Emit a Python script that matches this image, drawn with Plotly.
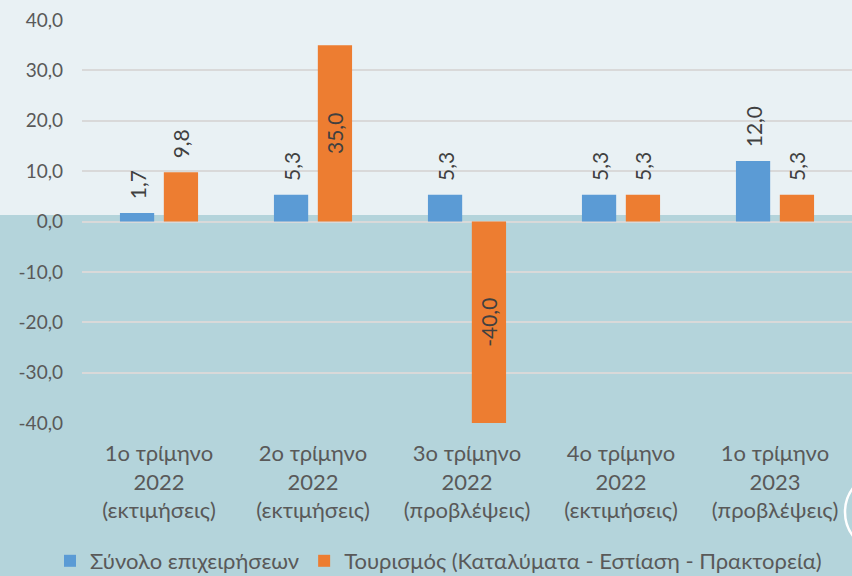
import plotly.graph_objects as go

categories = [
    "1ο τρίμηνο<br>2022<br>(εκτιμήσεις)",
    "2ο τρίμηνο<br>2022<br>(εκτιμήσεις)",
    "3ο τρίμηνο<br>2022<br>(προβλέψεις)",
    "4ο τρίμηνο<br>2022<br>(εκτιμήσεις)",
    "1ο τρίμηνο<br>2023<br>(προβλέψεις)",
]
total_name = "Σύνολο επιχειρήσεων"
tourism_name = "Τουρισμός (Καταλύματα - Εστίαση - Πρακτορεία)"
total_values = [1.7, 5.3, 5.3, 5.3, 12.0]
tourism_values = [9.8, 35.0, -40.0, 5.3, 5.3]
y_ticks = [-40, -30, -20, -10, 0, 10, 20, 30, 40]
y_tick_labels = ["-40,0", "-30,0", "-20,0", "-10,0", "0,0", "10,0", "20,0", "30,0", "40,0"]

# label placement (style)
total_label_pos = ["outside", "outside", "outside", "outside", "outside"]
tourism_label_pos = ["outside", "inside", "inside", "outside", "outside"]

FONT = "Lato"
TXT = "#595959"
LBL = "#404040"
PAD = "\u00a0\u00a0"

W, H = 852, 576
L, R, T, B = 82, 0, 20, 153
ph = H - T - B
pw = W - L - R


def py(pix):
    return (H - B - pix) / ph


def px(pix):
    return (pix - L) / pw


def fmt(v):
    return f"{v:.1f}".replace(".", ",")


def labels(values, positions):
    return [(PAD + fmt(v)) if p == "outside" else fmt(v) for v, p in zip(values, positions)]


fig = go.Figure()
fig.add_trace(go.Bar(
    x=categories, y=total_values, name=total_name,
    marker=dict(color="#5b9bd5", line=dict(width=0)),
    text=labels(total_values, total_label_pos), texttemplate="%{text}",
    textposition=total_label_pos, textangle=-90, insidetextanchor="middle",
    constraintext="none",
    textfont=dict(family=FONT, size=21, color=LBL), cliponaxis=False,
))
fig.add_trace(go.Bar(
    x=categories, y=tourism_values, name=tourism_name,
    marker=dict(color="#ed7d31", line=dict(width=0)),
    text=labels(tourism_values, tourism_label_pos), texttemplate="%{text}",
    textposition=tourism_label_pos, textangle=-90, insidetextanchor="middle",
    constraintext="none",
    textfont=dict(family=FONT, size=21, color=LBL), cliponaxis=False,
))

fig.update_layout(
    width=W, height=H,
    margin=dict(l=L, r=R, t=T, b=B, autoexpand=False),
    paper_bgcolor="#b4d4db",
    plot_bgcolor="rgba(0,0,0,0)",
    barmode="group", bargap=0.43, bargroupgap=0.22,
    font=dict(family=FONT, size=21, color=TXT),
    showlegend=True,
    legend=dict(orientation="h", x=px(50), xanchor="left", y=py(561), yanchor="middle",
                font=dict(family=FONT, size=22, color=TXT), bgcolor="rgba(0,0,0,0)",
                itemwidth=30, traceorder="normal"),
    shapes=[
        dict(type="rect", xref="paper", yref="paper", x0=-0.2, x1=1.1, y0=py(215), y1=py(0) + 0.05,
             fillcolor="#e9f1f4", line=dict(width=0), layer="below"),
        dict(type="circle", xref="paper", yref="paper", x0=px(845), x1=px(925), y0=py(552), y1=py(472),
             line=dict(color="white", width=2.5), layer="above"),
    ],
)
fig.update_xaxes(showgrid=False, showline=False, ticks="", automargin=False,
                 tickfont=dict(family=FONT, size=22, color=TXT), ticklabelstandoff=15)
fig.update_yaxes(range=[-40, 40], tickvals=y_ticks, ticktext=y_tick_labels, automargin=False,
                 showgrid=True, gridcolor="#d9d9d9", gridwidth=2,
                 zeroline=True, zerolinecolor="#d9d9d9", zerolinewidth=2,
                 tickfont=dict(family=FONT, size=19, color=TXT), ticks="", ticklabelstandoff=18)

fig.write_html("out.html", config={"displayModeBar": False},
               post_script="document.body.style.margin='0';document.body.style.overflow='hidden';")
